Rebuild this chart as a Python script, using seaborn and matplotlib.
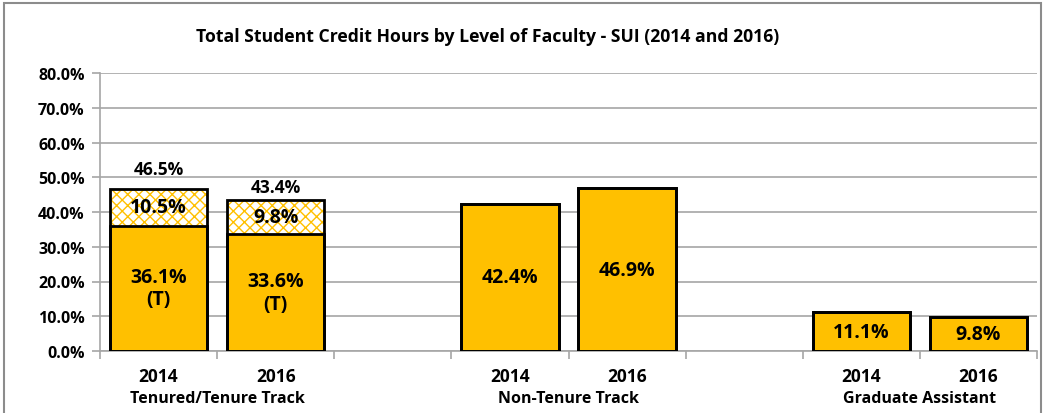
import numpy as np
import pandas as pd
import matplotlib
matplotlib.use("Agg")
import matplotlib.pyplot as plt
from matplotlib.patches import Rectangle
import seaborn as sns

# data (NaN = empty spacer slot)
slots = ["T2014", "T2016", "gap1", "NT2014", "NT2016", "gap2", "GA2014", "GA2016"]
years = ["2014", "2016", "", "2014", "2016", "", "2014", "2016"]
groups = ["Tenured/Tenure Track", "Non-Tenure Track", "Graduate Assistant"]
base_vals = [36.1, 33.6, np.nan, 42.4, 46.9, np.nan, 11.1, 9.8]
upper_vals = [10.5, 9.8, np.nan, 0, 0, np.nan, 0, 0]
total_labels = ["46.5%", "43.4%", "", "", "", "", "", ""]
base_suffix = ["\n(T)", "\n(T)", "", "", "", "", "", ""]
total_pad = [8, 3, 0, 0, 0, 0, 0, 0]  # label gap above bar, in points

df = pd.DataFrame({"slot": slots, "base": base_vals, "upper": upper_vals})
df["total"] = df["base"] + df["upper"]

sns.set_style("white")
plt.rcParams["font.family"] = ["Open Sans", "DejaVu Sans"]
plt.rcParams["font.weight"] = "bold"
plt.rcParams["text.color"] = "black"
plt.rcParams["ytick.labelcolor"] = "black"
plt.rcParams["hatch.linewidth"] = 1.0

gold = "#FFC000"
fig = plt.figure(figsize=(10.47, 4.14), dpi=100)
ax = fig.add_axes([100 / 1047, 1 - 352 / 414, 937 / 1047, 278 / 414])

# hatched top segment (drawn as the full stack, then covered by the base)
sns.barplot(data=df, x="slot", y="total", order=slots, color="white",
            hatch="xxx", edgecolor=gold, linewidth=0, width=0.83, ax=ax, zorder=2)
sns.barplot(data=df, x="slot", y="base", order=slots, color=gold,
            edgecolor="black", linewidth=2, width=0.83, ax=ax, saturation=1, zorder=3)
sns.barplot(data=df, x="slot", y="total", order=slots, fill=False,
            edgecolor="black", linewidth=2, width=0.83, ax=ax, zorder=4)

for i, s in enumerate(slots):
    b, u = base_vals[i], upper_vals[i]
    if np.isnan(b):
        continue
    ax.text(i, b / 2, f"{b:.1f}%" + base_suffix[i], ha="center", va="center",
            fontsize=14, fontweight="bold", zorder=5, linespacing=1.15)
    if u > 0:
        ax.text(i, b + u / 2, f"{u:.1f}%", ha="center", va="center",
                fontsize=14, fontweight="bold", zorder=5)
        ax.annotate(total_labels[i], (i, b + u), xytext=(0, total_pad[i]),
                    textcoords="offset points", ha="center", va="bottom",
                    fontsize=12.5, fontweight="bold", zorder=5)

ax.set_xlim(-0.5, len(slots) - 0.5)
ax.set_ylim(0, 80)
ax.set_yticks(range(0, 81, 10))
ax.set_yticklabels([f"{v:.1f}%" for v in range(0, 81, 10)], fontsize=11.5, fontweight="bold")
ax.yaxis.grid(True, color="#A6A6A6", linewidth=1.2, zorder=0)
ax.set_axisbelow(True)
ax.set_xticks([i - 0.5 for i in range(len(slots) + 1)])
ax.set_xticklabels([])
ax.tick_params(axis="x", length=6, width=1.2, color="#A6A6A6", direction="out", bottom=True)
ax.tick_params(axis="y", length=6, width=1.2, color="#A6A6A6", direction="out", left=True, pad=5)
ax.set_xlabel("")
ax.set_ylabel("")
for side in ["top", "right"]:
    ax.spines[side].set_visible(False)
for side in ["left", "bottom"]:
    ax.spines[side].set_color("#A6A6A6")
    ax.spines[side].set_linewidth(1.2)

trans = ax.get_xaxis_transform()
for i, y in enumerate(years):
    if y:
        ax.text(i, -0.09, y, transform=trans, ha="center", va="center",
                fontsize=12.5, fontweight="bold")
for g, name in enumerate(groups):
    ax.text(3 * g + 0.5, -0.17, name, transform=trans, ha="center", va="center",
            fontsize=11.5, fontweight="bold")

fig.text(488 / 1047, 1 - 37 / 414, "Total Student Credit Hours by Level of Faculty - SUI (2014 and 2016)",
         ha="center", va="center", fontsize=12.7, fontweight="bold")

fig.patches.append(Rectangle((4 / 1047, -0.05), 1037 / 1047, 1 - 4 / 414 + 0.05,
                             transform=fig.transFigure, fill=False,
                             edgecolor="#8C8C8C", linewidth=1.5))

fig.savefig("out.png", dpi=100)
